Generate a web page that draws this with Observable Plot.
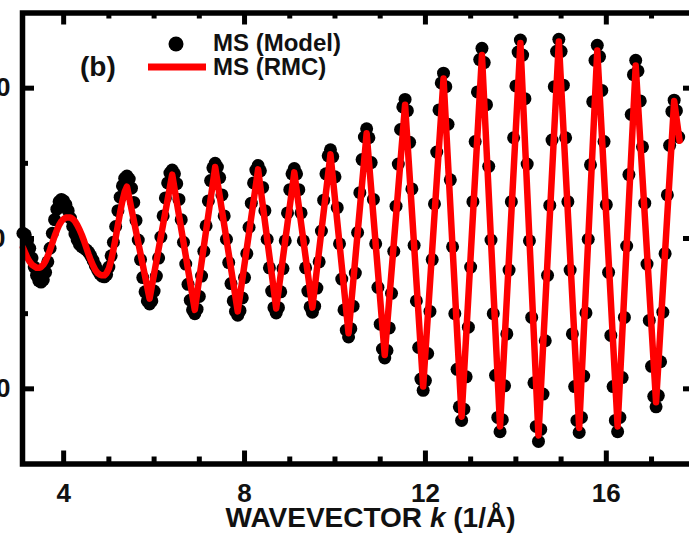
<!DOCTYPE html>
<html>
<head>
<meta charset="utf-8">
<script src="https://cdn.jsdelivr.net/npm/d3@7"></script>
<script src="https://cdn.jsdelivr.net/npm/@observablehq/plot@0.6"></script>
<style>
  html, body { margin: 0; padding: 0; background: #fff; overflow: hidden; }
  #chart { width: 689px; height: 537px; overflow: hidden; }
  #chart svg { max-width: none !important; display: block; }
</style>
</head>
<body>
<div id="chart"></div>
<script>
// Wavevector grid of the model EXAFS signal (1/Å)
const kModel = [
  3.10, 3.15, 3.20, 3.25, 3.30, 3.35, 3.40, 3.45, 3.50, 3.55,
  3.60, 3.65, 3.70, 3.75, 3.80, 3.85, 3.90, 3.95, 4.00, 4.05,
  4.10, 4.15, 4.20, 4.25, 4.30, 4.35, 4.40, 4.45, 4.50, 4.55,
  4.60, 4.65, 4.70, 4.75, 4.80, 4.85, 4.90, 4.95, 5.00, 5.05,
  5.10, 5.15, 5.20, 5.25, 5.30, 5.35, 5.40, 5.45, 5.50, 5.55,
  5.60, 5.65, 5.70, 5.75, 5.80, 5.85, 5.90, 5.95, 6.00, 6.05,
  6.10, 6.15, 6.20, 6.25, 6.30, 6.35, 6.40, 6.45, 6.50, 6.55,
  6.60, 6.65, 6.70, 6.75, 6.80, 6.85, 6.90, 6.95, 7.00, 7.05,
  7.10, 7.15, 7.20, 7.25, 7.30, 7.35, 7.40, 7.45, 7.50, 7.55,
  7.60, 7.65, 7.70, 7.75, 7.80, 7.85, 7.90, 7.95, 8.00, 8.05,
  8.10, 8.15, 8.20, 8.25, 8.30, 8.35, 8.40, 8.45, 8.50, 8.55,
  8.60, 8.65, 8.70, 8.75, 8.80, 8.85, 8.90, 8.95, 9.00, 9.05,
  9.10, 9.15, 9.20, 9.25, 9.30, 9.35, 9.40, 9.45, 9.50, 9.55,
  9.60, 9.65, 9.70, 9.75, 9.80, 9.85, 9.90, 9.95, 10.00, 10.05,
  10.10, 10.15, 10.20, 10.25, 10.30, 10.35, 10.40, 10.45, 10.50, 10.55,
  10.60, 10.65, 10.70, 10.75, 10.80, 10.85, 10.90, 10.95, 11.00, 11.05,
  11.10, 11.15, 11.20, 11.25, 11.30, 11.35, 11.40, 11.45, 11.50, 11.55,
  11.60, 11.65, 11.70, 11.75, 11.80, 11.85, 11.90, 11.95, 12.00, 12.05,
  12.10, 12.15, 12.20, 12.25, 12.30, 12.35, 12.40, 12.45, 12.50, 12.55,
  12.60, 12.65, 12.70, 12.75, 12.80, 12.85, 12.90, 12.95, 13.00, 13.05,
  13.10, 13.15, 13.20, 13.25, 13.30, 13.35, 13.40, 13.45, 13.50, 13.55,
  13.60, 13.65, 13.70, 13.75, 13.80, 13.85, 13.90, 13.95, 14.00, 14.05,
  14.10, 14.15, 14.20, 14.25, 14.30, 14.35, 14.40, 14.45, 14.50, 14.55,
  14.60, 14.65, 14.70, 14.75, 14.80, 14.85, 14.90, 14.95, 15.00, 15.05,
  15.10, 15.15, 15.20, 15.25, 15.30, 15.35, 15.40, 15.45, 15.50, 15.55,
  15.60, 15.65, 15.70, 15.75, 15.80, 15.85, 15.90, 15.95, 16.00, 16.05,
  16.10, 16.15, 16.20, 16.25, 16.30, 16.35, 16.40, 16.45, 16.50, 16.55,
  16.60, 16.65, 16.70, 16.75, 16.80, 16.85, 16.90, 16.95, 17.00, 17.05,
  17.10, 17.15, 17.20, 17.25, 17.30, 17.35, 17.40, 17.45, 17.50, 17.55,
  17.60
];

// Multiple-scattering signal of the model, one value per grid point
const chiModel = [
  0.07, 0.05, -0.03, -0.13, -0.26, -0.38, -0.49, -0.56, -0.58, -0.55,
  -0.45, -0.31, -0.13, 0.07, 0.25, 0.39, 0.49, 0.52, 0.50, 0.45,
  0.37, 0.27, 0.16, 0.06, -0.02, -0.08, -0.11, -0.13, -0.15, -0.18,
  -0.23, -0.29, -0.36, -0.42, -0.47, -0.50, -0.51, -0.48, -0.38, -0.23,
  -0.05, 0.16, 0.37, 0.55, 0.70, 0.80, 0.83, 0.79, 0.67, 0.48,
  0.24, -0.02, -0.28, -0.52, -0.71, -0.83, -0.87, -0.83, -0.70, -0.50,
  -0.26, 0.02, 0.30, 0.54, 0.74, 0.87, 0.91, 0.86, 0.73, 0.52,
  0.25, -0.05, -0.34, -0.61, -0.82, -0.95, -1.00, -0.94, -0.77, -0.50,
  -0.17, 0.17, 0.50, 0.77, 0.94, 1.00, 0.95, 0.81, 0.58, 0.30,
  -0.01, -0.32, -0.60, -0.83, -0.97, -1.02, -0.96, -0.79, -0.52, -0.20,
  0.15, 0.47, 0.74, 0.91, 0.97, 0.90, 0.68, 0.37, -0.01, -0.39,
  -0.70, -0.92, -0.99, -0.92, -0.71, -0.40, -0.03, 0.34, 0.65, 0.86,
  0.93, 0.86, 0.65, 0.34, -0.03, -0.39, -0.70, -0.91, -0.98, -0.90,
  -0.66, -0.31, 0.10, 0.51, 0.86, 1.10, 1.18, 1.09, 0.82, 0.41,
  -0.07, -0.54, -0.95, -1.22, -1.31, -1.20, -0.90, -0.46, 0.08, 0.61,
  1.05, 1.35, 1.46, 1.34, 1.01, 0.52, -0.07, -0.65, -1.14, -1.47,
  -1.59, -1.49, -1.19, -0.73, -0.17, 0.43, 0.99, 1.45, 1.75, 1.85,
  1.70, 1.28, 0.66, -0.09, -0.83, -1.45, -1.87, -2.02, -1.89, -1.53,
  -0.97, -0.28, 0.46, 1.15, 1.71, 2.07, 2.20, 2.02, 1.52, 0.78,
  -0.11, -1.00, -1.74, -2.24, -2.42, -2.27, -1.84, -1.18, -0.38, 0.49,
  1.29, 1.95, 2.38, 2.53, 2.34, 1.78, 0.96, -0.02, -1.00, -1.82,
  -2.38, -2.57, -2.41, -1.96, -1.27, -0.42, 0.49, 1.34, 2.03, 2.48,
  2.64, 2.44, 1.86, 0.99, -0.03, -1.05, -1.92, -2.50, -2.70, -2.54,
  -2.07, -1.36, -0.49, 0.44, 1.31, 2.02, 2.49, 2.65, 2.49, 2.04,
  1.34, 0.49, -0.42, -1.27, -1.97, -2.42, -2.58, -2.38, -1.83, -0.99,
  -0.01, 0.98, 1.82, 2.37, 2.57, 2.42, 1.97, 1.29, 0.45, -0.45,
  -1.29, -1.97, -2.42, -2.57, -2.38, -1.85, -1.05, -0.10, 0.85, 1.65,
  2.18, 2.37, 2.23, 1.83, 1.22, 0.47, -0.34, -1.09, -1.70, -2.10,
  -2.24, -2.09, -1.64, -0.98, -0.20, 0.58, 1.24, 1.69, 1.84, 1.70,
  1.35
];

// Reverse Monte Carlo fit: wavevector and signal at each vertex of the curve
const kRmc = [
  3.10, 3.15, 3.20, 3.25, 3.30, 3.35, 3.40, 3.45, 3.50, 3.55,
  3.60, 3.65, 3.70, 3.75, 3.80, 3.85, 3.90, 3.95, 4.00, 4.05,
  4.10, 4.15, 4.20, 4.25, 4.30, 4.35, 4.40, 4.45, 4.50, 4.55,
  4.60, 4.65, 4.70, 4.75, 4.80, 4.85, 4.90, 4.95, 5.00, 5.05,
  5.10, 5.15, 5.20, 5.25, 5.30, 5.35, 5.40,
  5.90, 6.40, 6.90, 7.35, 7.85, 8.30, 8.70, 9.10, 9.50, 9.90,
  10.30, 10.70, 11.10, 11.55, 11.95, 12.40, 12.80, 13.25, 13.65, 14.10,
  14.50, 14.95, 15.40, 15.80, 16.25, 16.65, 17.10, 17.50, 17.62
];
const chiRmc = [
  -0.12, -0.19, -0.26, -0.31, -0.35, -0.37, -0.39, -0.39, -0.38, -0.35,
  -0.30, -0.23, -0.15, -0.06, 0.03, 0.11, 0.18, 0.23, 0.26, 0.28,
  0.28, 0.28, 0.26, 0.23, 0.18, 0.12, 0.05, -0.03, -0.12, -0.21,
  -0.29, -0.36, -0.42, -0.46, -0.48, -0.49, -0.49, -0.46, -0.40, -0.29,
  -0.15, 0.01, 0.18, 0.35, 0.50, 0.62, 0.69,
  -0.80, 0.85, -0.95, 0.95, -0.97, 0.92, -0.93, 0.88, -0.92, 1.12,
  -1.26, 1.40, -1.55, 1.78, -1.97, 2.13, -2.37, 2.44, -2.50, 2.60,
  -2.62, 2.62, -2.52, 2.50, -2.50, 2.30, -2.18, 1.83, 1.30
];

// Axis ticks and texts
const xMajorTicks = [4, 8, 12, 16];
const xMinorTicks = [5, 6, 7, 9, 10, 11, 13, 14, 15, 17];
const ySideTicks = [-2, 2];
const yZeroTick = [0];
const yMajorTicks = [-2, 0, 2];
const yMinorTicks = [-1, 1];
const xLabelParts = ["WAVEVECTOR ", "k", " (1/Å)"];
const legendLabels = ["MS (Model)", "MS (RMC)"];
const panelLabel = "(b)";

const model = kModel.map((k, i) => ({k, chi: chiModel[i]}));
const rmc = kRmc.map((k, i) => ({k, chi: chiRmc[i]}));

const W = 700, H = 537;
const mL = 22, mR = 6, mT = 12.5, mB = 73.5;
const frameW = W - mL - mR;
const frameH = H - mT - mB;
const font = "'Liberation Sans', Arial, Helvetica, sans-serif";
const ink = "#111";
const red = "#ff0000";
const tickStyle = {stroke: "black", strokeWidth: 5};

const plot = Plot.plot({
  width: W,
  height: H,
  marginLeft: mL,
  marginRight: mR,
  marginTop: mT,
  marginBottom: mB,
  style: {fontFamily: font, background: "white", color: ink, maxWidth: "none"},
  x: {domain: [3.09, 17.95]},
  y: {domain: [-3, 3]},
  marks: [
    Plot.dot(model, {x: "k", y: "chi", r: 6.5, fill: "black", stroke: "none"}),
    Plot.line(rmc, {x: "k", y: "chi", stroke: red, strokeWidth: 6.5,
                    strokeLinejoin: "round", strokeLinecap: "round"}),
    // inward ticks on all four sides
    Plot.ruleX(xMajorTicks, {x: d => d, ...tickStyle, insetTop: frameH - 13}),
    Plot.ruleX(xMinorTicks, {x: d => d, ...tickStyle, insetTop: frameH - 7}),
    Plot.ruleX(xMajorTicks, {x: d => d, ...tickStyle, insetBottom: frameH - 12}),
    Plot.ruleX(xMinorTicks, {x: d => d, ...tickStyle, insetBottom: frameH - 6}),
    Plot.ruleY(yMajorTicks, {y: d => d, ...tickStyle, insetRight: frameW - 12}),
    Plot.ruleY(yMinorTicks, {y: d => d, ...tickStyle, insetRight: frameW - 6}),
    Plot.ruleY(yMajorTicks, {y: d => d, ...tickStyle, insetLeft: frameW - 11}),
    Plot.ruleY(yMinorTicks, {y: d => d, ...tickStyle, insetLeft: frameW - 5}),
    Plot.frame({stroke: "black", strokeWidth: 5.5}),
    Plot.axisX({ticks: xMajorTicks, tickSize: 0, tickPadding: 19.5, label: null,
                fontSize: 26, fontWeight: "bold", fill: ink}),
    Plot.axisY({ticks: ySideTicks, tickSize: 0, tickPadding: 12, label: null,
                fontSize: 26, fontWeight: "bold", fill: ink}),
    Plot.axisY({ticks: yZeroTick, tickSize: 0, tickPadding: 17, label: null,
                fontSize: 26, fontWeight: "bold", fill: ink}),
    Plot.text([xLabelParts.join("")], {
      text: d => d, frameAnchor: "bottom", dx: 12, dy: 54.5,
      textAnchor: "middle", lineAnchor: "middle",
      fontSize: 28, fontWeight: "bold", fill: ink
    })
  ]
});
plot.style.maxWidth = "none";

const svg = d3.select(plot);

// italic k in the axis title
svg.selectAll("text")
  .filter(function () { return this.textContent === xLabelParts.join(""); })
  .each(function () {
    const t = d3.select(this);
    t.text(null);
    t.append("tspan").text(xLabelParts[0]);
    t.append("tspan").attr("font-style", "italic").text(xLabelParts[1]);
    t.append("tspan").text(xLabelParts[2]);
  });

// legend and panel letter
const g = svg.append("g")
  .attr("font-family", font)
  .attr("font-weight", "bold")
  .attr("text-anchor", "start")
  .attr("fill", ink);
g.append("circle").attr("cx", 176).attr("cy", 44).attr("r", 7.5).attr("fill", "black");
g.append("line").attr("x1", 148).attr("x2", 206).attr("y1", 67).attr("y2", 67)
  .attr("stroke", red).attr("stroke-width", 7);
g.append("text").attr("x", 213).attr("y", 51).attr("font-size", 24).text(legendLabels[0]);
g.append("text").attr("x", 213).attr("y", 75).attr("font-size", 24).text(legendLabels[1]);
g.append("text").attr("x", 80).attr("y", 76).attr("font-size", 28).text(panelLabel);

document.getElementById("chart").appendChild(plot);
</script>
</body>
</html>
